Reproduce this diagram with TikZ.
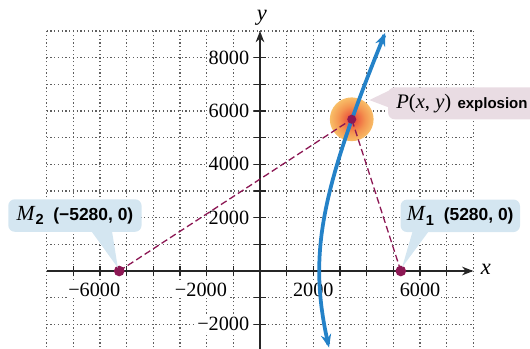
\documentclass[tikz,border=0pt]{standalone}
\usepackage{fontspec}
\setmainfont{Liberation Serif}
\newfontfamily\calloutfont{Liberation Sans}
\usetikzlibrary{arrows.meta}
\definecolor{gridgray}{RGB}{95,95,95}
\definecolor{dotred}{RGB}{140,24,84}
\definecolor{curveblue}{RGB}{36,130,200}
\definecolor{callblue}{RGB}{212,230,241}
\definecolor{callpink}{RGB}{233,220,227}
\definecolor{glowA}{RGB}{228,56,58}
\definecolor{glowB}{RGB}{237,96,64}
\definecolor{glowC}{RGB}{244,148,80}
\definecolor{glowD}{RGB}{249,198,108}
\definecolor{glowE}{RGB}{253,228,150}
\definecolor{glowF}{RGB}{254,238,190}
\pgfdeclareradialshading{glowshade}{\pgfpoint{0bp}{0bp}}{color(0bp)=(glowA); color(6bp)=(glowB); color(15bp)=(glowC); color(27bp)=(glowD); color(40bp)=(glowE); color(50bp)=(glowF)}
\begin{document}
\begin{tikzpicture}[x=0.5cm,y=0.5cm,
  gridline/.style={gridgray, line width=0.65pt, dash pattern=on 0.65pt off 1.35pt},
  axisline/.style={black!85, line width=0.8pt},
  axisarrow/.style={axisline, -{Stealth[length=6pt,width=4.6pt]}},
  ticklab/.style={font=\fontsize{10.8}{12}\selectfont, inner sep=0.6pt, fill=white},
  axlab/.style={font=\fontsize{12}{14}\selectfont\itshape, inner sep=0pt},
  dashconn/.style={dotred, line width=0.7pt, dash pattern=on 3.6pt off 1.8pt},
  curve/.style={curveblue, line width=2pt, {Stealth[length=7pt,width=5.5pt]}-{Stealth[length=7pt,width=5.5pt]}},
  callbox/.style={rounded corners=3.5pt, inner sep=0pt, minimum height=0.61cm}
]
\useasboundingbox (-9.75,-2.8875) rectangle (10.125,10.1625);
\clip (-9.75,-2.8875) rectangle (10.125,10.1625);

% grid
\foreach \i in {-8,...,8} \draw[gridline] (\i,-3) -- (\i,9);
\foreach \j in {-2,...,9} \draw[gridline] (-8,\j) -- (8,\j);

% tick labels (white backing hides the grid behind them)
\foreach \v/\t in {8/8000,6/6000,4/4000,2/2000,-2/{\char"2212\relax 2000}}
  \node[ticklab, anchor=east] (yl\v) at (-0.35,\v) {\t};
\foreach \v/\t in {2/2000,6/6000}
  \node[ticklab] (xl\v) at (\v,-0.72) {\t};
\foreach \v/\t in {-2/2000,-6/6000}
  \node[ticklab, xshift=-3.05pt] (xln\v) at (\v,-0.72) {\char"2212\relax\t};

% axes
\coordinate (xl) at (-8,0);
\coordinate (xr) at (8,0);
\coordinate (yb) at (0,-3);
\coordinate (yt) at (0,9);
\draw[axisarrow] (xl) -- (xr);
\draw[axisarrow] (yb) -- (yt);
\foreach \i in {-7,...,-1,1,2,...,7} \draw[axisline] (\i,-0.2) -- (\i,0.2);
\foreach \j in {-2,-1,1,2,...,8} \draw[axisline] (-0.22,\j) -- (0.22,\j);
\node[axlab] (xlab) at (8.47,0.07) {x};
\node[axlab] (ylab) at (0.07,9.5) {y};

% points
\coordinate (M2) at (-5.28,0);
\coordinate (M1) at (5.28,0);
\coordinate (P) at (3.44,5.69);

% explosion glow
\shade[shading=glowshade] (P) circle (0.82);

% dashed connectors
\draw[dashconn] (M2) -- (P);
\draw[dashconn] (M1) -- (P);

% hyperbola branch
\draw[curve] plot[domain=-2.87:8.93, samples=90, smooth, variable=\t] ({2.22*sqrt(1+(\t)*(\t)/22.95)},\t);

% dots
\fill[dotred] (M2) circle (0.2);
\fill[dotred] (M1) circle (0.2);
\fill[dotred] (P) circle (0.17);

% callouts
\node[callbox, fill=callblue, minimum width=2.5cm] (c2) at (-6.94,2.08)
  {\fontsize{11.5}{13}\selectfont\textit{M}\raisebox{-0.45ex}{\calloutfont\bfseries\fontsize{7.8}{8}\selectfont 2}\hspace{0.45em}{\calloutfont\bfseries\fontsize{9.3}{10}\selectfont (\char"2212\relax 5280,\ 0)}};
\fill[callblue] ([shift={(0.57,0.1)}]c2.south) -- (-5.33,0.12) -- ([shift={(1.38,0.1)}]c2.south) -- cycle;

\node[callbox, fill=callblue, minimum width=2.24cm] (c1) at (7.51,2.07)
  {\fontsize{11.5}{13}\selectfont\textit{M}\raisebox{-0.45ex}{\calloutfont\bfseries\fontsize{7.8}{8}\selectfont 1}\hspace{0.45em}{\calloutfont\bfseries\fontsize{9.3}{10}\selectfont (5280,\ 0)}};
\fill[callblue] ([shift={(-1.77,0.1)}]c1.south) -- (5.33,0.14) -- ([shift={(-1.14,0.1)}]c1.south) -- cycle;

\node[callbox, fill=callpink, minimum width=3.2cm, minimum height=0.6cm, anchor=west] (cp) at (4.79,6.29) {};
\fill[callpink] ([shift={(0.1,0.5)}]cp.west) -- (4.1,6.41) -- ([shift={(0.1,-0.18)}]cp.west) -- cycle;
\node[inner sep=0pt, anchor=west] (ptext) at (5.1,6.29)
  {\fontsize{11}{13}\selectfont\textit{P}(\textit{x}, \textit{y})\hspace{0.3em}{\calloutfont\bfseries\fontsize{8}{10}\selectfont explosion}};
\end{tikzpicture}
\end{document}
